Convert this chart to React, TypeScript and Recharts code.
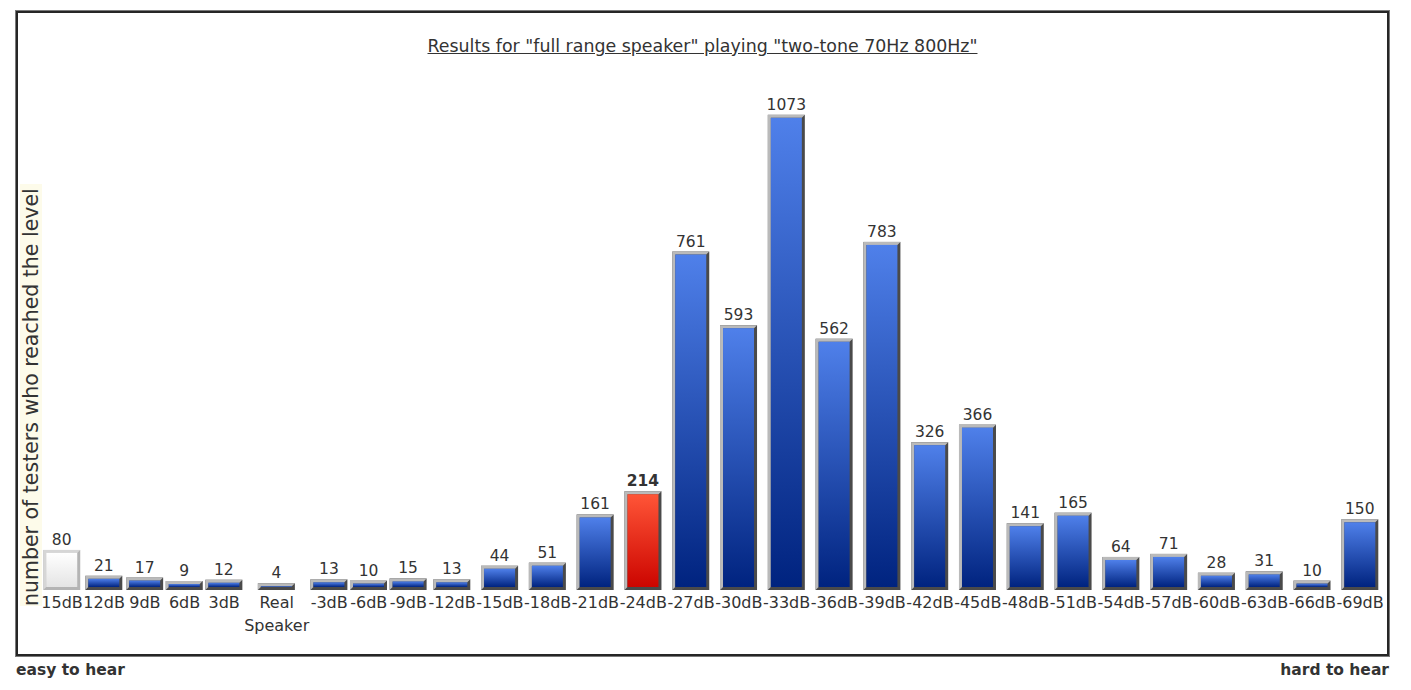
import React from 'react';
import { BarChart, Bar, XAxis, YAxis, LabelList } from 'recharts';

// sound levels tested, from easy to hard
const levels = [
  '15dB', '12dB', '9dB', '6dB', '3dB', 'Real Speaker',
  '-3dB', '-6dB', '-9dB', '-12dB', '-15dB', '-18dB', '-21dB', '-24dB',
  '-27dB', '-30dB', '-33dB', '-36dB', '-39dB', '-42dB', '-45dB', '-48dB',
  '-51dB', '-54dB', '-57dB', '-60dB', '-63dB', '-66dB', '-69dB',
];

// number of testers who reached each level
const testers = [
  80, 21, 17, 9, 12, 4,
  13, 10, 15, 13, 44, 51, 161, 214,
  761, 593, 1073, 562, 783, 326, 366, 141,
  165, 64, 71, 28, 31, 10, 150,
];

const referenceLevel = '15dB';
const selectedLevel = '-24dB';

const FONT = "'DejaVu Sans', Verdana, sans-serif";
const INK = '#333333';
const TICK_SIZE = 16;

// columns are as wide as their label (like the original html table)
const ctx = document.createElement('canvas').getContext('2d');
const textWidth = (s: string) => {
  if (!ctx) return s.length * 9.5;
  ctx.font = `${TICK_SIZE}px ${FONT}`;
  return ctx.measureText(s).width;
};
const slotWidths = levels.map((l) => Math.max(40, ...l.split(' ').map((w) => textWidth(w) + 1)));
const total = slotWidths.reduce((a, b) => a + b, 0);
const centers = slotWidths.map((w, i) => slotWidths.slice(0, i).reduce((a, b) => a + b, 0) + w / 2);

const data = levels.map((level, i) => ({ level, pos: centers[i], testers: testers[i] }));

const BevelBar = (props: any) => {
  const { x, y, width, height, payload } = props;
  if (width == null || height == null) return null;
  const b = 3;
  const top = y - 5;
  const bottom = y + height;
  const kind = payload.level === referenceLevel ? 'ref' : payload.level === selectedLevel ? 'sel' : 'std';
  const light = kind === 'ref' ? '#d6d6d6' : '#bababa';
  const dark = kind === 'ref' ? '#b4b4b4' : '#4a4a4a';
  const fill = kind === 'ref' ? 'url(#gWhite)' : kind === 'sel' ? 'url(#gRed)' : 'url(#gBlue)';
  const r = x + width;
  return (
    <g>
      <rect x={x} y={top} width={width} height={bottom - top} fill={dark} />
      <polygon
        points={`${x},${top} ${r},${top} ${r - b},${top + b} ${x + b},${top + b} ${x + b},${bottom - b} ${x},${bottom}`}
        fill={light}
      />
      <rect x={x + b} y={top + b} width={width - 2 * b} height={Math.max(0.5, bottom - top - 2 * b)} fill={fill} />
    </g>
  );
};

const ValueLabel = (props: any) => {
  const { x, y, width, value, index } = props;
  const bold = levels[index] === selectedLevel;
  return (
    <text
      x={x + width / 2}
      y={y - 10}
      textAnchor="middle"
      fontFamily={FONT}
      fontSize={15.5}
      fontWeight={bold ? 'bold' : 'normal'}
      fill={INK}
    >
      {value}
    </text>
  );
};

const LevelTick = (props: any) => {
  const { x, y, payload } = props;
  const i = centers.findIndex((c) => Math.abs(c - payload.value) < 0.01);
  const lines = (levels[i] || '').split(' ');
  return (
    <text x={x} y={y + 18} textAnchor="middle" fontFamily={FONT} fontSize={TICK_SIZE} fill={INK}>
      {lines.map((ln, k) => (
        <tspan key={k} x={x} dy={k === 0 ? 0 : 23}>
          {ln}
        </tspan>
      ))}
    </text>
  );
};

export default function App() {
  return (
    <div style={{ position: 'relative', width: 1395, height: 682, background: '#fff', fontFamily: FONT, color: INK }}>
      <div
        style={{
          position: 'absolute',
          left: 8,
          top: 3,
          width: 1373,
          height: 645,
          boxSizing: 'border-box',
          border: '2px solid #262626',
          boxShadow: '0 0 0 1px #7a7a7a',
        }}
      />
      <div
        style={{
          position: 'absolute',
          left: 0,
          right: 0,
          top: 28,
          textAlign: 'center',
          fontSize: 17.4,
          lineHeight: '20px',
          textDecoration: 'underline',
        }}
      >
        <span style={{ position: 'relative', left: -3 }}>
          Results for "full range speaker" playing "two-tone 70Hz 800Hz"
        </span>
      </div>
      <div
        style={{
          position: 'absolute',
          left: 12,
          top: 598,
          transformOrigin: 'left top',
          transform: 'rotate(-90deg)',
          whiteSpace: 'nowrap',
          fontSize: 20.5,
          lineHeight: '22px',
          background: '#fdfbea',
          paddingRight: 4,
        }}
      >
        number of testers who reached the level
      </div>
      <div style={{ position: 'absolute', left: 0, top: 0 }}>
        <BarChart width={1395} height={682} data={data} margin={{ top: 100, right: 19, left: 33, bottom: 50 }}>
          <defs>
            <linearGradient id="gBlue" x1="0" y1="0" x2="0" y2="1">
              <stop offset="0%" stopColor="#4f80ea" />
              <stop offset="100%" stopColor="#00237f" />
            </linearGradient>
            <linearGradient id="gRed" x1="0" y1="0" x2="0" y2="1">
              <stop offset="0%" stopColor="#ff5537" />
              <stop offset="100%" stopColor="#cc0500" />
            </linearGradient>
            <linearGradient id="gWhite" x1="0" y1="0" x2="0" y2="1">
              <stop offset="0%" stopColor="#ffffff" />
              <stop offset="100%" stopColor="#e4e4e4" />
            </linearGradient>
          </defs>
          <XAxis
            type="number"
            dataKey="pos"
            domain={[0, total]}
            ticks={centers}
            interval={0}
            tick={<LevelTick />}
            tickLine={false}
            axisLine={false}
            tickSize={0}
            tickMargin={0}
            height={50}
            allowDataOverflow
          />
          <YAxis hide domain={[0, 1100]} allowDataOverflow />
          <Bar dataKey="testers" barSize={37} shape={<BevelBar />} isAnimationActive={false}>
            <LabelList dataKey="testers" content={<ValueLabel />} />
          </Bar>
        </BarChart>
      </div>
      <div style={{ position: 'absolute', left: 8, top: 653, fontSize: 15.5, fontWeight: 'bold', lineHeight: '18px' }}>
        easy to hear
      </div>
      <div style={{ position: 'absolute', right: 14, top: 653, fontSize: 15.5, fontWeight: 'bold', lineHeight: '18px' }}>
        hard to hear
      </div>
    </div>
  );
}
